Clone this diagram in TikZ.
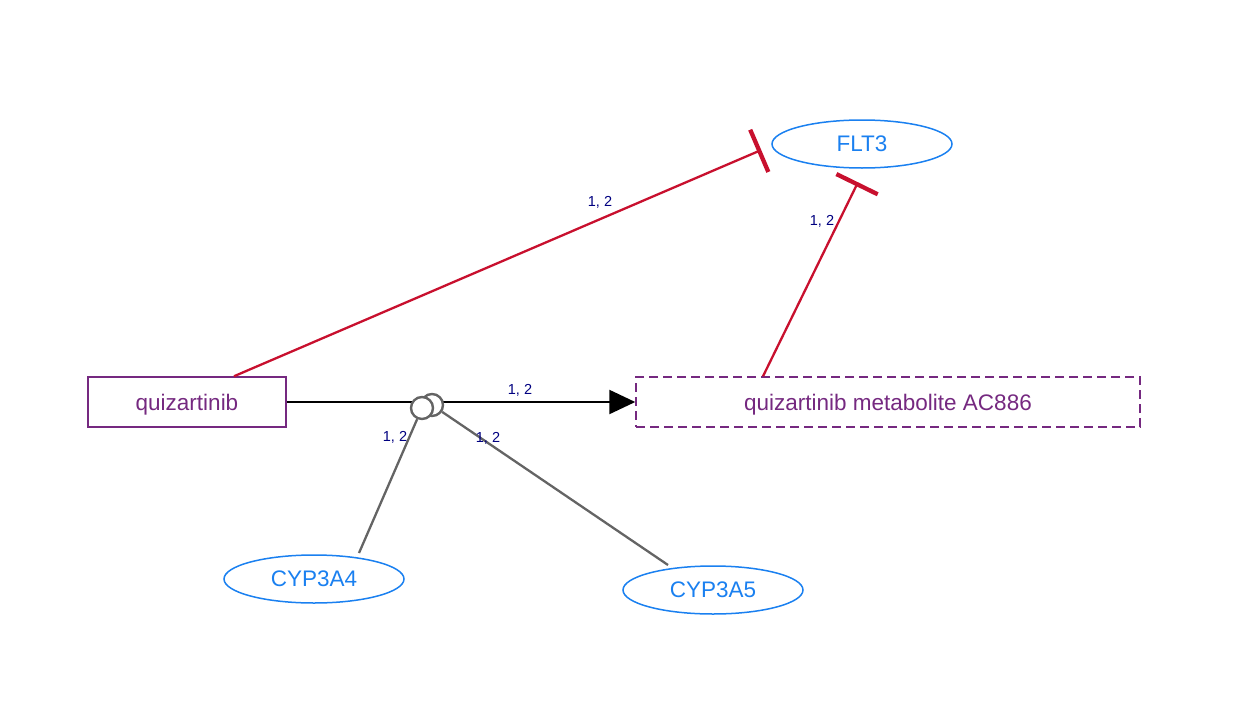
\documentclass[tikz,border=0pt]{standalone}
\usepackage{fontspec}
\setmainfont{Liberation Sans}
\usetikzlibrary{arrows.meta,shapes.geometric,calc,backgrounds}
\definecolor{cpurple}{RGB}{117,41,128}
\definecolor{cblue}{RGB}{26,128,240}
\definecolor{cred}{RGB}{200,16,46}
\definecolor{cnavy}{RGB}{0,0,128}
\definecolor{cgray}{RGB}{100,100,100}
\tikzset{
  chem/.style={draw=cpurple, text=cpurple, line width=1.5pt, minimum height=50pt, inner sep=0pt, text height=20pt, text depth=4pt, font=\fontsize{22.5}{27}\selectfont},
  gene/.style={ellipse, draw=cblue, text=cblue, line width=1.5pt, minimum width=180pt, minimum height=48pt, inner sep=0pt, text height=18pt, text depth=4pt, font=\fontsize{22.5}{27}\selectfont},
  cat/.style={circle, draw=cgray, fill=white, line width=2.4pt, minimum size=22pt, inner sep=0pt},
  lbl/.style={text=cnavy, inner sep=0pt, font=\fontsize{14.5}{17}\selectfont},
  inhib/.style={draw=cred, line width=2.3pt, -{Bar[width=46pt,line width=4.3pt]}},
  conv/.style={draw=black, line width=2.4pt, -{Triangle[length=26pt,width=24pt]}},
  catline/.style={draw=cgray, line width=2.3pt},
}
\begin{document}
\begin{tikzpicture}[x=1pt,y=-1pt]
\useasboundingbox (0,0) rectangle (1250,720);
\node[chem, minimum width=198pt] (q) at (187,402) {quizartinib};
\node[chem, dashed, dash pattern=on 9pt off 5pt, minimum width=504pt] (m) at (888,402) {quizartinib metabolite AC886};
\node[gene] (f) at (862,144) {FLT3};
\node[gene] (c4) at (314,579) {CYP3A4};
\node[gene] (c5) at (713,590) {CYP3A5};
\node[cat] (k2) at (432,405) {};
\node[cat] (k1) at (422,408) {};
\begin{scope}[on background layer]
\draw[conv] (q.east) -- (m.west);
\draw[catline] ($(c4.center)+(45,-26)$) -- (k1);
\draw[catline] ($(c5.center)+(-45,-25)$) -- (k2);
\end{scope}
\draw[inhib] ($(q.north)+(47,0)$) -- ($(f.west)+(-10,6)$);
\draw[inhib] ($(m.north)+(-125,0)$) -- ($(f.south)+(-4,13.5)$);
\node[lbl] (l1) at (520,390) {1, 2};
\node[lbl] (l2) at (395,437) {1, 2};
\node[lbl] (l3) at (488,438) {1, 2};
\node[lbl] (l4) at (600,202) {1, 2};
\node[lbl] (l5) at (822,221) {1, 2};
\end{tikzpicture}
\end{document}
